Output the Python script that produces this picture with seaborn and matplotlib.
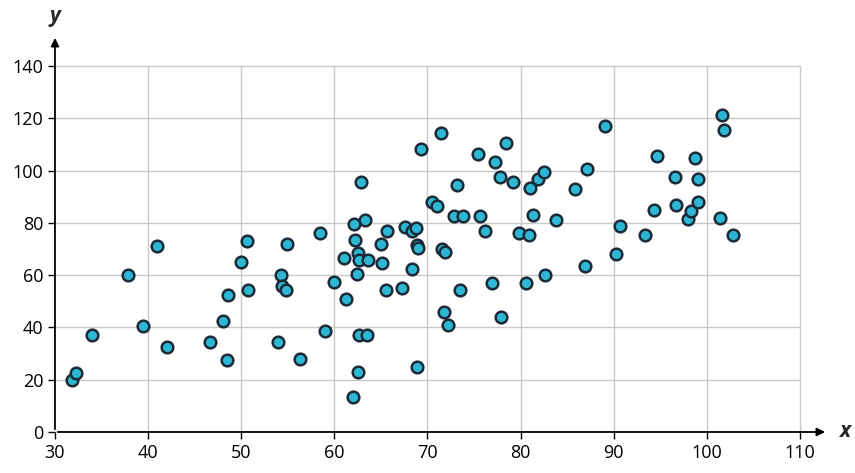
import matplotlib
matplotlib.use("Agg")
import matplotlib.pyplot as plt
import seaborn as sns
import pandas as pd

xs = [31.8,32.3,34,37.8,39.5,41,42,46.7,48,48.5,48.6,50,50.6,50.7,54,54.3,54.4,54.8,54.9,56.3,58.5,59,60,61,61.3,62,62.1,62.2,62.4,62.5,62.6,62.5,62.6,62.9,63.3,63.5,63.6,65,65.1,65.6,65.7,67.3,67.6,68.3,68.3,68.8,68.9,68.9,69,69.3,70.5,71,71.5,71.6,71.8,71.9,72.2,72.8,73.2,73.5,73.8,75.4,75.6,76.2,76.9,77.2,77.8,77.9,78.4,79.2,79.8,80.6,80.9,81,81.3,81.9,82.5,82.6,83.8,85.8,86.9,87.1,89.1,90.2,90.7,93.4,94.3,94.6,96.6,96.7,98,98.3,98.7,99,99.1,101.4,101.6,101.8,102.8]
ys = [20,22.5,37,60,40.5,71,32.5,34.5,42.5,27.5,52.5,65,73,54.5,34.5,60,56,54.5,72,28,76,38.5,57.5,66.5,51,13.5,79.5,73.5,60.5,23,37,68.5,66,95.5,81,37,66,72,64.5,54.5,77,55,78.5,62.5,77,78,71.5,25,70.5,108.5,88,86.5,114.5,70,46,69,41,82.5,94.5,54.5,82.5,106.5,82.5,77,57,103.5,97.5,44,110.5,95.5,76,57,75.5,93.5,83,97,99.5,60,81,93,63.5,100.5,117,68,79,75.5,85,105.5,97.5,87,81.5,84.5,105,88,97,82,121.5,115.5,75.5]
xticks = [30,40,50,60,70,80,90,100,110]
yticks = [0,20,40,60,80,100,120,140]

sns.set_style("white")
plt.rcParams['font.family'] = ['Open Sans', 'DejaVu Sans']
fig = plt.figure(figsize=(8.55, 4.73), dpi=100)
ax = fig.add_axes([0.0643, 0.0867, 0.904, 0.839])
ax.set_xlim(30, 113)
ax.set_ylim(0, 151.9)
for t in xticks[1:]:
    ax.plot([t, t], [0, 140], color="#c8c8c8", lw=1, zorder=0)
for t in yticks[1:]:
    ax.plot([30, 110], [t, t], color="#c8c8c8", lw=1, zorder=0)
for s in ax.spines.values():
    s.set_visible(False)
df = pd.DataFrame({"x": xs, "y": ys})
sns.scatterplot(data=df, x="x", y="y", ax=ax, s=70, color="#2db7d2",
                edgecolor="#1c2a38", linewidth=1.8, zorder=3, clip_on=False)
ax.annotate("", xy=(113, 0), xytext=(30, 0), xycoords="data",
            arrowprops=dict(arrowstyle="-|>", color="black", lw=1.3, mutation_scale=12), annotation_clip=False)
ax.annotate("", xy=(30, 151.9), xytext=(30, 0), xycoords="data",
            arrowprops=dict(arrowstyle="-|>", color="black", lw=1.3, mutation_scale=12), annotation_clip=False)
ax.set_xticks(xticks)
ax.set_yticks(yticks)
ax.tick_params(axis="both", labelsize=13, length=5, width=1, colors="black", direction="out")
ax.tick_params(bottom=True, left=True)
ax.set_xlabel("")
ax.set_ylabel("")
ax.text(114.2, 0, "x", fontsize=15, fontweight="bold", fontstyle="italic", va="center", ha="left")
ax.text(30, 155, "y", fontsize=15, fontweight="bold", fontstyle="italic", va="bottom", ha="center")
fig.savefig("out.png", dpi=100)
